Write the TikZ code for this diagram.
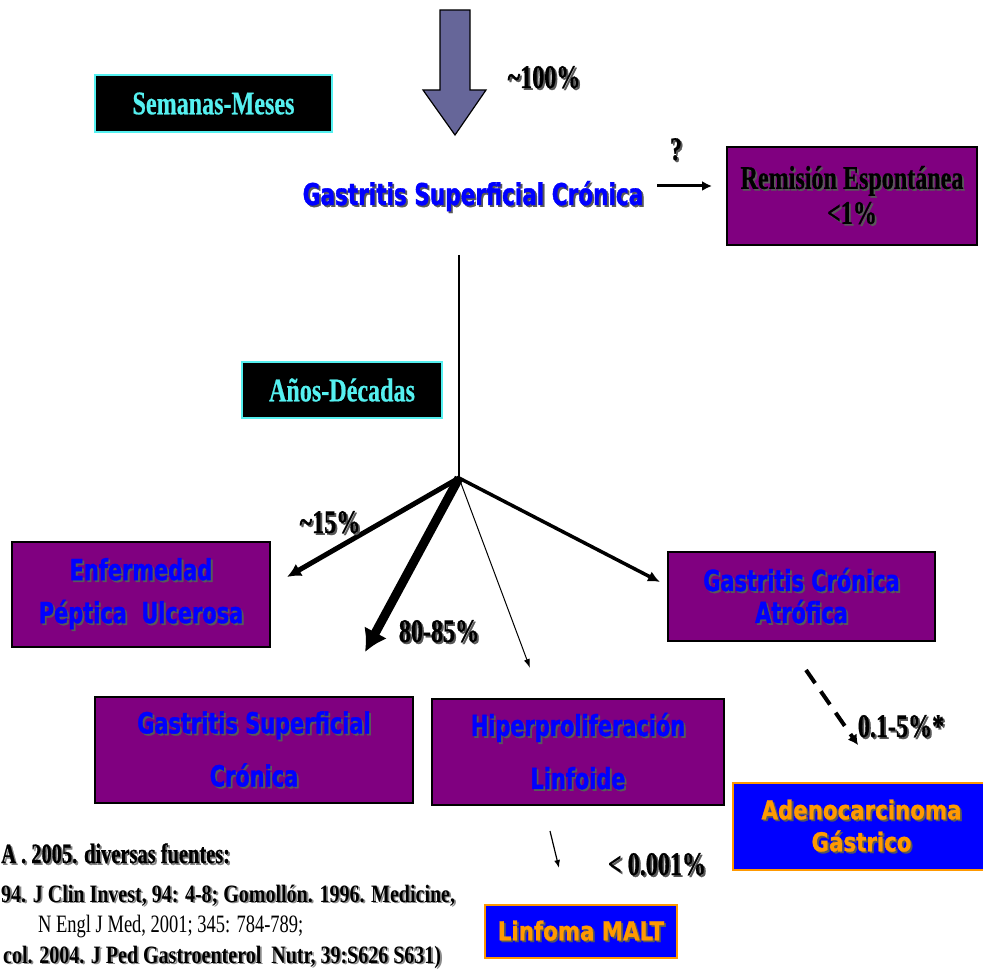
\documentclass[tikz,border=0pt]{standalone}
\usepackage{fontspec}
\usetikzlibrary{arrows.meta}
\newfontfamily\serf[FakeStretch=0.73,FakeBold=0.6]{Liberation Serif}
\newfontfamily\serr[FakeStretch=0.74]{Liberation Serif}
\newfontfamily\serw[FakeStretch=0.80]{Liberation Serif}
\newfontfamily\sanf[FakeStretch=0.72,FakeBold=1.2]{DejaVu Sans}
\newfontfamily\sano[FakeStretch=0.82,FakeBold=1]{DejaVu Sans}
\definecolor{purp}{RGB}{128,0,128}
\definecolor{cyn}{RGB}{85,240,240}
\definecolor{orng}{RGB}{255,153,0}
\definecolor{slate}{RGB}{102,102,153}
\newcommand\shd[2][black!65]{\leavevmode\rlap{\kern1.8pt\raisebox{-1.8pt}{\textcolor{#1}{#2}}}#2}
\tikzset{
  pbox/.style={draw=black, line width=2.5pt, fill=purp, text=blue, align=center, inner sep=0pt,
    font=\sanf\bfseries\fontsize{29}{53}\selectfont},
  tbox/.style={draw=cyn, line width=1.5pt, fill=black, text=cyn, inner sep=0pt,
    font=\serf\bfseries\fontsize{33}{36}\selectfont},
  obox/.style={draw=orng, line width=2pt, fill=blue, text=orng, align=center, inner sep=0pt,
    font=\sano\bfseries\fontsize{26}{32}\selectfont},
  lbl/.style={anchor=base, inner sep=0pt, text=black, font=\serf\bfseries\fontsize{33}{36}\selectfont},
  reftxt/.style={inner sep=0pt, text=black, font=\serr\fontsize{25}{30}\selectfont},
  arr/.style={draw=black}
}
\begin{document}
\begin{tikzpicture}[x=1pt,y=-1pt]
\useasboundingbox (0,0) rectangle (983,973);
% block arrow
\filldraw[fill=slate, draw=black, line width=1.2pt]
  (440,10) -- (470,10) -- (470,90) -- (486,90) -- (455,135) -- (423,90) -- (440,90) -- cycle;
\node[lbl] (p100) at (544,88) {\shd{\textasciitilde 100\%}};

\node[tbox, minimum width=237, minimum height=57] (sem) at (213.5,103.5) {Semanas-Meses};
\node[tbox, minimum width=200, minimum height=56] (anos) at (342,390) {Años-Décadas};

\node[anchor=base, inner sep=0pt, text=blue, font=\sanf\bfseries\fontsize{30}{34}\selectfont] (main) at (473,205) {\shd{Gastritis Superficial Crónica}};

\node[pbox, minimum width=250, minimum height=98, text=black,
  font=\serf\bfseries\fontsize{33}{35}\selectfont] (rem) at (852,196)
  {\shd{Remisión Espontánea}\\\shd{<1\%}};
\node[lbl] (q) at (676,160) {\shd{?}};
\coordinate (qa) at (657,186);
\coordinate (qb) at (712,186);
\draw[arr, line width=3pt, -{Latex[length=10pt,width=10pt]}] (qa) -- (qb);

% trunk
\coordinate (top) at (459,255);
\coordinate (j) at (459,478);
\draw[line width=2pt] (top) -- (j);

\node[pbox, minimum width=258, minimum height=105,
  font=\sanf\bfseries\fontsize{29}{43}\selectfont] (epu) at (141,594.5)
  {\shd{Enfermedad}\\\shd{Péptica\ \ Ulcerosa}};
\node[pbox, minimum width=267, minimum height=89,
  font=\sanf\bfseries\fontsize{29}{32}\selectfont] (gca) at (801.5,596.5)
  {\shd{Gastritis Crónica}\\\shd{Atrófica}};
\node[pbox, minimum width=318, minimum height=106] (gsc) at (254,750)
  {\shd{Gastritis Superficial}\\\shd{Crónica}};
\node[pbox, minimum width=292, minimum height=106] (hl) at (578,752)
  {\shd{Hiperproliferación}\\\shd{Linfoide}};
\node[obox, minimum width=257, minimum height=87] (adc) at (861.5,826.5)
  {\shd{Adenocarcinoma}\\\shd{Gástrico}};
\node[obox, minimum width=192, minimum height=53] (malt) at (581,931.5)
  {\shd{Linfoma MALT}};

% branch ends
\coordinate (e1) at (287,577);
\coordinate (e2) at (365,652);
\coordinate (e3) at (530,668);
\coordinate (e4) at (660,582);
\draw[arr, line width=5pt, -{Latex[length=14pt,width=14pt]}] (j) -- (e1);
\draw[arr, line width=9pt, -{Latex[length=22pt,width=26pt]}] (j) -- (e2);
\draw[arr, line width=1pt, -{Latex[length=9pt,width=6pt]}] (j) -- (e3);
\draw[arr, line width=3.5pt, -{Latex[length=12pt,width=11pt]}] (j) -- (e4);
\node[lbl] (p15) at (330,533) {\shd{\textasciitilde 15\%}};
\node[lbl] (p80) at (439,642) {\shd{80-85\%}};

% dashed to adenocarcinoma
\coordinate (d1) at (806,670);
\coordinate (d2) at (858,745);
\draw[arr, line width=4pt, dash pattern=on 16pt off 10pt, -{Latex[length=10pt,width=11pt]}] (d1) -- (d2);
\node[lbl] (p01) at (901,737) {\shd{0.1-5\%*}};

% to MALT
\coordinate (m1) at (550,831);
\coordinate (m2) at (559,868);
\draw[arr, line width=1.2pt, -{Latex[length=8pt,width=6pt]}] (m1) -- (m2);
\node[lbl] (p001) at (657,875) {\shd{< 0.001\%}};

% references
\node[reftxt, anchor=base west, font=\serf\bfseries\fontsize{28}{30}\selectfont] (r1) at (1,863) {\shd[black!50]{A . 2005. diversas fuentes:}};
\node[reftxt, anchor=base west, font=\serw\bfseries\fontsize{25}{30}\selectfont] (r2) at (1,902) {\shd[black!45]{94. J Clin Invest, 94: 4-8; Gomollón. 1996. Medicine,}};
\node[reftxt, anchor=base west] (r3) at (38,932) {N Engl J Med, 2001; 345: 784-789;};
\node[reftxt, anchor=base west, font=\serw\bfseries\fontsize{25}{30}\selectfont] (r4) at (3,963) {\shd[black!45]{col. 2004. J Ped Gastroenterol\ \ Nutr, 39:S626 S631)}};
\end{tikzpicture}
\end{document}
